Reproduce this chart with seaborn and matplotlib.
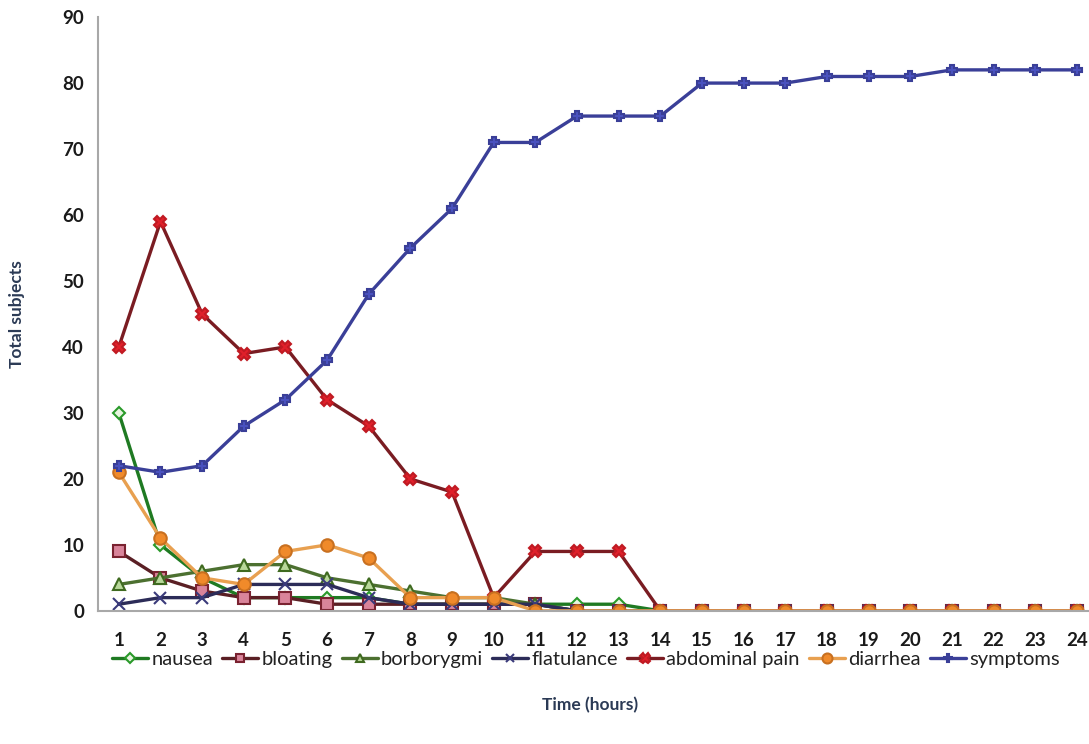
import pandas as pd
import matplotlib.pyplot as plt
import seaborn as sns

hours = list(range(1, 25))

nausea = [30, 10, 5, 2, 2, 2, 2, 1, 1, 1, 1, 1, 1, 0, 0, 0, 0, 0, 0, 0, 0, 0, 0, 0]
bloating = [9, 5, 3, 2, 2, 1, 1, 1, 1, 1, 1, 0, 0, 0, 0, 0, 0, 0, 0, 0, 0, 0, 0, 0]
borborygmi = [4, 5, 6, 7, 7, 5, 4, 3, 2, 2, 1, 0, 0, 0, 0, 0, 0, 0, 0, 0, 0, 0, 0, 0]
flatulance = [1, 2, 2, 4, 4, 4, 2, 1, 1, 1, 1, 0, 0, 0, 0, 0, 0, 0, 0, 0, 0, 0, 0, 0]
abdominal_pain = [40, 59, 45, 39, 40, 32, 28, 20, 18, 2, 9, 9, 9, 0, 0, 0, 0, 0, 0, 0, 0, 0, 0, 0]
diarrhea = [21, 11, 5, 4, 9, 10, 8, 2, 2, 2, 0, 0, 0, 0, 0, 0, 0, 0, 0, 0, 0, 0, 0, 0]
symptoms = [22, 21, 22, 28, 32, 38, 48, 55, 61, 71, 71, 75, 75, 75, 80, 80, 80, 81, 81, 81, 82, 82, 82, 82]

series = {
    "nausea": nausea,
    "bloating": bloating,
    "borborygmi": borborygmi,
    "flatulance": flatulance,
    "abdominal pain": abdominal_pain,
    "diarrhea": diarrhea,
    "symptoms": symptoms,
}

# line colour, marker, marker face, marker edge, size
styles = {
    "nausea": ("#1f7a22", "D", "#e8f5e0", "#2a9a2a", 6),
    "bloating": ("#5a1f24", "s", "#d9849a", "#7a2230", 8),
    "borborygmi": ("#4c7030", "^", "#b8d89a", "#3f6a20", 8),
    "flatulance": ("#2c2c58", "x", "#2c2c58", "#3a3a7a", 8),
    "abdominal pain": ("#7a1c22", "X", "#e0202a", "#c01a22", 9),
    "diarrhea": ("#e8a050", "o", "#f08a2a", "#c87020", 9),
    "symptoms": ("#3a3f98", "P", "#4a52c0", "#3a3f98", 7),
}

df = pd.DataFrame({"hour": hours, **series})

sns.set_style("white")
plt.rcParams["font.family"] = ["Lato", "DejaVu Sans"]

fig = plt.figure(figsize=(10.89, 7.44), dpi=100)
ax = fig.add_axes([0.090, 0.179, 0.918, 0.798])

for name in series:
    lc, mk, mf, me, ms = styles[name]
    sns.lineplot(
        data=df, x="hour", y=name, ax=ax,
        color=lc, linewidth=2.4, marker=mk, markersize=ms,
        markerfacecolor=mf, markeredgecolor=me, markeredgewidth=1.5,
        label=name,
    )

ax.set_xlim(0.5, 24.5)
ax.set_ylim(0, 90)
ax.set_xticks(hours)
ax.set_yticks(range(0, 91, 10))
ax.tick_params(axis="y", length=0, labelsize=13.5, labelcolor="#1a1a1a", pad=10)
ax.tick_params(axis="x", length=0, labelsize=13.5, labelcolor="#1a1a1a", pad=15)
for lbl in ax.get_xticklabels() + ax.get_yticklabels():
    lbl.set_fontweight("bold")

for side in ["top", "right"]:
    ax.spines[side].set_visible(False)
for side in ["left", "bottom"]:
    ax.spines[side].set_color("#a8a8a8")
    ax.spines[side].set_linewidth(1.5)

ax.set_xlabel("")
ax.set_ylabel("Total subjects", fontsize=12.5, fontweight="bold", color="#2b3a55", labelpad=27)

fig.text(0.542, 0.052, "Time (hours)", ha="center", va="center",
         fontsize=12.5, fontweight="bold", color="#2b3a55")

handles, labels = ax.get_legend_handles_labels()
ax.legend_.remove()
fig.legend(handles, labels, loc="center", bbox_to_anchor=(0.538, 0.114),
           ncol=7, frameon=False, fontsize=14.5, handlelength=1.8,
           handletextpad=0.15, columnspacing=0.45, markerscale=0.8,
           labelcolor="#222222")

fig.savefig("out.png", dpi=100)
